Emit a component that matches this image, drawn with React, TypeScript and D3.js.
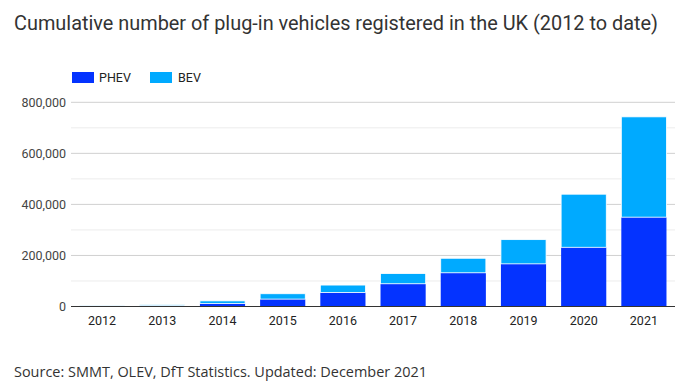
import React from "react";
import * as d3 from "d3";

const years = ["2012", "2013", "2014", "2015", "2016", "2017", "2018", "2019", "2020", "2021"];
const phev = [1500, 3000, 12000, 29000, 55000, 89000, 132000, 167000, 232000, 350000];
const bev = [2000, 4000, 10000, 21000, 29000, 40000, 57000, 95000, 208000, 393000];
const seriesNames = ["PHEV", "BEV"];
const seriesColors = ["#0433FF", "#00AAFF"];
const yTicks = [0, 200000, 400000, 600000, 800000];
const yMinor = [100000, 300000, 500000, 700000];

const W = 698;
const H = 392;

export default function App() {
  const x = d3.scaleBand<string>().domain(years).range([72, 674]).paddingInner(0.25).paddingOuter(0.125);
  const y = d3.scaleLinear().domain([0, 800000]).range([306.5, 102.3]);
  const rows = years.map((yr, i) => ({ year: yr, PHEV: phev[i], BEV: bev[i] }));
  const stacked = d3.stack<any>().keys(seriesNames)(rows);
  const fmt = d3.format(",");
  const font = "Roboto, Arial, sans-serif";
  return (
    <svg width={W} height={H} style={{ position: "absolute", left: 0, top: 0, background: "#fff" }}>
      <text x={14} y={30} fontFamily={font} fontSize={20} fill="#333" textLength={644} lengthAdjust="spacingAndGlyphs">
        Cumulative number of plug-in vehicles registered in the UK (2012 to date)
      </text>
      {seriesNames.map((s, i) => (
        <g key={s}>
          <rect x={[72, 150][i]} y={72} width={22} height={11} fill={seriesColors[i]} />
          <text x={[99, 178][i]} y={82} fontFamily={font} fontSize={12.5} fill="#222">{s}</text>
        </g>
      ))}
      {yMinor.map((t) => (
        <line key={"m" + t} x1={71} x2={675} y1={y(t)} y2={y(t)} stroke="#ececec" strokeWidth={1} />
      ))}
      {yTicks.map((t) => (
        <g key={t}>
          {t > 0 && <line x1={71} x2={675} y1={y(t)} y2={y(t)} stroke="#d0d0d0" strokeWidth={1} />}
          <text x={66} y={y(t) + 4.5} textAnchor="end" fontFamily={font} fontSize={12.5} fill="#444">{fmt(t)}</text>
        </g>
      ))}
      {stacked.map((layer, li) => (
        <g key={layer.key}>
          {layer.map((d: any, i: number) => (
            <rect
              key={i}
              x={x(years[i])}
              width={x.bandwidth()}
              y={y(d[1])}
              height={Math.max(0, y(d[0]) - y(d[1]))}
              fill={seriesColors[li]}
              stroke="#fff"
              strokeWidth={li === 1 ? 0.8 : 0}
            />
          ))}
        </g>
      ))}
      <line x1={71} x2={675} y1={y(0)} y2={y(0)} stroke="#333" strokeWidth={1} />
      {years.map((yr) => (
        <text key={yr} x={(x(yr) as number) + x.bandwidth() / 2} y={325} textAnchor="middle" fontFamily={font} fontSize={12.5} fill="#222">{yr}</text>
      ))}
      <text x={14} y={377} fontFamily="'Open Sans', sans-serif" fontSize={15} fill="#333" textLength={413} lengthAdjust="spacingAndGlyphs">
        Source: SMMT, OLEV, DfT Statistics. Updated: December 2021
      </text>
    </svg>
  );
}
